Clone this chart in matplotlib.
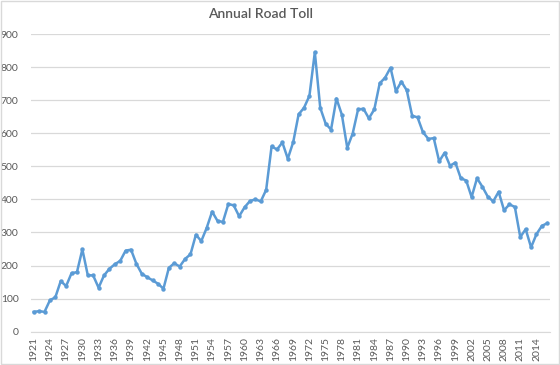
import matplotlib
matplotlib.use('Agg')
import matplotlib.pyplot as plt
from matplotlib.patches import Rectangle

# Annual road toll, 1921-2016
years = list(range(1921, 2017))
toll = [60, 62, 60, 95, 104, 153, 138, 177, 180, 249,
        171, 170, 133, 170, 190, 204, 214, 245, 248, 205,
        175, 165, 155, 145, 130, 193, 207, 197, 220, 234,
        293, 274, 314, 363, 335, 332, 386, 382, 349, 376,
        395, 400, 394, 429, 560, 551, 572, 523, 573, 657,
        677, 713, 845, 677, 629, 611, 705, 656, 556, 599,
        672, 674, 645, 672, 751, 768, 798, 727, 756, 730,
        653, 648, 603, 583, 585, 515, 541, 502, 511, 464,
        457, 407, 464, 438, 408, 394, 423, 367, 385, 377,
        286, 310, 255, 295, 320, 328]
tick_years = years[::3]

plt.rcParams['font.family'] = ['Lato', 'DejaVu Sans']

fig = plt.figure(figsize=(5.6, 3.65), dpi=100)
ax = fig.add_axes([31 / 560, 1 - 331.7 / 365, 519 / 560, 297.7 / 365])

x = list(range(len(years)))
ax.plot(x, toll, color='#5B9BD5', linewidth=1.8, marker='o', markersize=3.2,
        markeredgewidth=0, zorder=3)

ax.set_xlim(-0.5, len(years) - 0.5)
ax.set_ylim(0, 900)
ax.set_yticks(range(0, 901, 100))
ax.set_xticks(x[::3])
ax.set_xticklabels([str(y) for y in tick_years], rotation=90)
ax.tick_params(axis='both', length=0, labelsize=7.5, labelcolor='#595959')
ax.tick_params(axis='y', pad=9)
ax.tick_params(axis='x', pad=4)

ax.grid(axis='y', color='#D9D9D9', linewidth=0.9)
ax.set_axisbelow(True)
for side in ['left', 'right', 'top']:
    ax.spines[side].set_visible(False)
ax.spines['bottom'].set_color('#D9D9D9')

fig.text(0.466, 0.962, 'Annual Road Toll', ha='center', va='center',
         fontsize=10, color='#595959', fontweight='semibold')

fig.patches.append(Rectangle((0.001, 0.002), 0.997, 0.995, transform=fig.transFigure,
                             fill=False, edgecolor='#D9D9D9', linewidth=1))

fig.savefig('out.png', dpi=100)
